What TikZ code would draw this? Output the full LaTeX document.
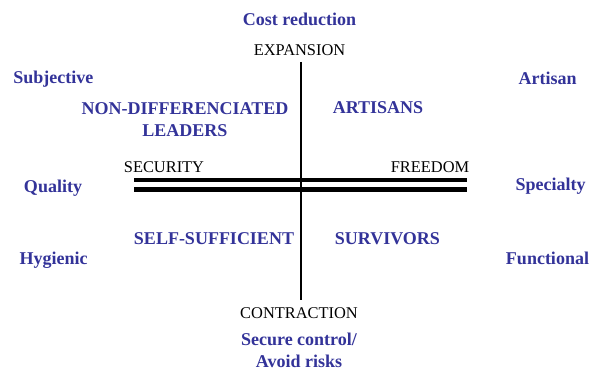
\documentclass[tikz,border=0pt]{standalone}
\usepackage{fontspec}
\setmainfont{Liberation Serif}
\usepackage{tikz}
\usetikzlibrary{positioning}
\definecolor{mainBlue}{RGB}{51,51,153}
\definecolor{mainBlack}{gray}{0}

\begin{document}
\begin{tikzpicture}[x=1pt, y=-1pt,
    axislabel/.style={anchor=base, inner sep=0pt, font=\fontsize{16.4}{20}\selectfont, mainBlack},
    strategy/.style={anchor=base, inner sep=0pt, align=center, font=\fontsize{18}{22}\selectfont\bfseries, mainBlue},
    barline/.style={line width=4.3pt, mainBlack}]
    \useasboundingbox (0,0) rectangle (592,374);

    % axes
    \coordinate (vtop) at (301,62);
    \coordinate (vbot) at (301,300);
    \coordinate (hlA) at (134,180);
    \coordinate (hrA) at (467,180);
    \coordinate (hlB) at (134,189.5);
    \coordinate (hrB) at (467,189.5);
    \draw[line width=2pt, mainBlack] (vtop) -- (vbot);
    \draw[barline] (hlA) -- (hrA);
    \draw[barline] (hlB) -- (hrB);

    \node[axislabel] (expansion) at (299.5,56) {EXPANSION};
    \node[axislabel] (contraction) at (299,318.3) {CONTRACTION};
    \node[axislabel] (security) at (164,172.3) {SECURITY};
    \node[axislabel] (freedom) at (430,172.3) {FREEDOM};

    % last line sits on the base anchor
    \node[strategy] (cost) at (299.5,25.7) {Cost reduction};
    \node[strategy] (secure) at (299,367.3) {Secure control/\\Avoid risks};
    \node[strategy] (subjective) at (53.3,83.3) {Subjective};
    \node[strategy] (artisan) at (547.7,85) {Artisan};
    \node[strategy] (quality) at (53,192.3) {Quality};
    \node[strategy] (specialty) at (550.5,190.7) {Specialty};
    \node[strategy] (hygienic) at (53.5,264.3) {Hygienic};
    \node[strategy] (functional) at (547.5,264.3) {Functional};

    \node[strategy] (leaders) at (185,136.5) {NON-DIFFERENCIATED\\LEADERS};
    \node[strategy] (artisans) at (378,114) {ARTISANS};
    \node[strategy] (selfsuff) at (214,244.3) {SELF-SUFFICIENT};
    \node[strategy] (survivors) at (387.5,244.3) {SURVIVORS};
\end{tikzpicture}
\end{document}
